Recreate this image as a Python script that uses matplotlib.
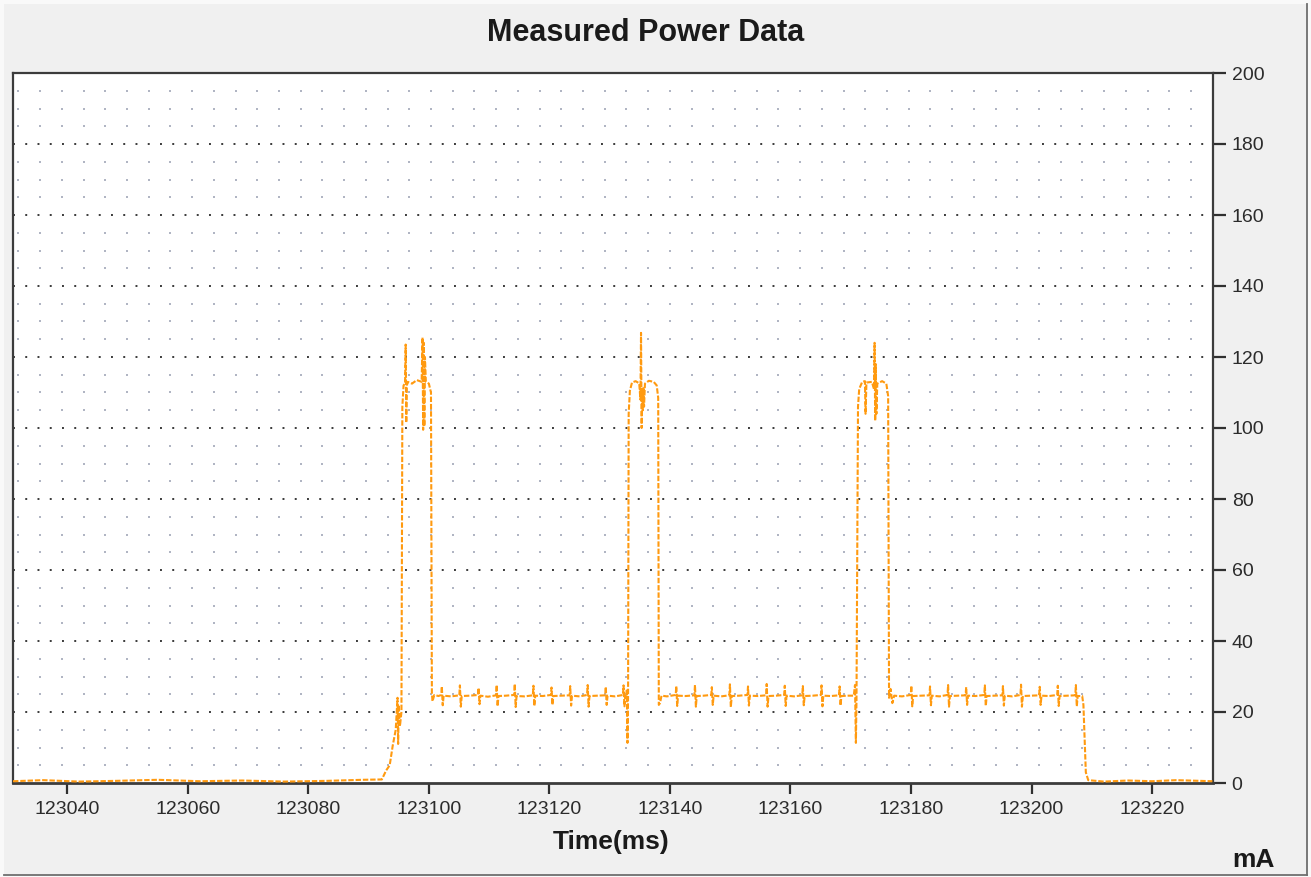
import numpy as np
import matplotlib
matplotlib.use("Agg")
import matplotlib.pyplot as plt
from matplotlib.patches import Rectangle
from matplotlib.lines import Line2D

plt.rcParams["font.family"] = ["Liberation Sans", "DejaVu Sans"]

# ---- measured current trace (time in ms, current in mA), one list per segment ----
idle_before = [
    (123031.0, 0.5), (123036.0, 0.8), (123042.0, 0.4), (123048.0, 0.6),
    (123055.0, 0.9), (123062.0, 0.5), (123069.0, 0.7), (123076.0, 0.4),
    (123083.0, 0.6), (123089.0, 0.9), (123092.2, 1.0),
]
wake_ramp = [
    (123092.9, 3.5), (123093.5, 5.0), (123094.0, 10.5), (123094.5, 15.0),
    (123094.8, 24.0), (123094.9, 11.0), (123095.0, 22.0), (123095.2, 16.0),
    (123095.45, 20.0),
]
burst_1 = [
    (123095.6, 106.0), (123095.8, 112.0), (123096.05, 112.5), (123096.15, 123.5),
    (123096.25, 101.5), (123096.35, 112.0), (123096.5, 113.0), (123097.2, 112.5),
    (123098.0, 113.5), (123098.8, 113.0), (123098.95, 125.5), (123099.05, 99.5),
    (123099.15, 124.0), (123099.25, 100.5), (123099.35, 120.0), (123099.5, 113.0),
    (123100.0, 112.5), (123100.35, 110.0), (123100.5, 25.5),
]
rx_wait_1 = [
    (123100.6, 23.0), (123100.9, 24.8), (123101.6, 24.5),
    (123102.05, 24.8), (123102.15, 27.2), (123102.3, 21.9), (123102.45, 24.6), (123103.7, 24.4),
    (123105.05, 24.7), (123105.15, 27.5), (123105.3, 21.5), (123105.45, 24.5), (123106.8, 24.6),
    (123108.15, 24.8), (123108.25, 26.8), (123108.4, 22.2), (123108.55, 24.6), (123109.8, 24.3),
    (123111.15, 24.7), (123111.25, 27.6), (123111.4, 21.6), (123111.55, 24.5), (123112.8, 24.6),
    (123114.15, 24.8), (123114.25, 27.9), (123114.4, 21.4), (123114.55, 24.5), (123115.9, 24.4),
    (123117.25, 24.7), (123117.35, 27.4), (123117.5, 21.7), (123117.65, 24.6), (123118.9, 24.5),
    (123120.25, 24.8), (123120.35, 26.9), (123120.5, 22.0), (123120.65, 24.5), (123122.0, 24.6),
    (123123.35, 24.7), (123123.45, 27.3), (123123.6, 21.8), (123123.75, 24.6), (123125.0, 24.4),
    (123126.25, 24.8), (123126.35, 27.6), (123126.5, 21.5), (123126.65, 24.5), (123127.9, 24.6),
    (123129.25, 24.7), (123129.35, 27.1), (123129.5, 22.0), (123129.65, 24.6), (123130.9, 24.4),
    (123132.2, 24.8), (123132.3, 27.5), (123132.45, 21.6), (123132.6, 24.5),
]
burst_2 = [
    (123132.75, 24.0), (123132.85, 26.5), (123132.95, 11.3), (123133.05, 24.0),
    (123133.15, 104.0), (123133.35, 110.5), (123133.7, 112.8), (123134.3, 113.2),
    (123134.9, 112.6), (123135.1, 108.0), (123135.2, 126.8), (123135.3, 100.0),
    (123135.4, 111.0), (123135.5, 105.0), (123135.6, 111.5), (123135.7, 106.0),
    (123135.85, 112.5), (123136.5, 113.3), (123137.3, 113.0), (123137.8, 112.0),
    (123138.05, 108.5), (123138.15, 22.0), (123138.35, 22.5), (123138.6, 24.6),
]
rx_wait_2 = [
    (123139.5, 24.4),
    (123140.95, 24.8), (123141.05, 27.3), (123141.2, 21.7), (123141.35, 24.6), (123142.6, 24.5),
    (123144.05, 24.7), (123144.15, 27.6), (123144.3, 21.5), (123144.45, 24.5), (123145.6, 24.6),
    (123146.85, 24.8), (123146.95, 27.0), (123147.1, 22.0), (123147.25, 24.6), (123148.5, 24.4),
    (123149.85, 24.7), (123149.95, 27.8), (123150.1, 21.4), (123150.25, 24.5), (123151.5, 24.6),
    (123152.85, 24.8), (123152.95, 27.2), (123153.1, 21.8), (123153.25, 24.6), (123154.6, 24.5),
    (123155.95, 24.7), (123156.05, 27.9), (123156.2, 21.5), (123156.35, 24.5), (123157.6, 24.6),
    (123158.95, 24.8), (123159.05, 27.4), (123159.2, 21.7), (123159.35, 24.6), (123160.6, 24.4),
    (123161.95, 24.7), (123162.05, 27.3), (123162.2, 21.9), (123162.35, 24.5), (123163.7, 24.6),
    (123165.05, 24.8), (123165.15, 27.5), (123165.3, 21.6), (123165.45, 24.6), (123166.7, 24.5),
    (123168.05, 24.7), (123168.15, 27.2), (123168.3, 21.8), (123168.45, 24.5), (123169.6, 24.6),
]
burst_3 = [
    (123170.5, 24.6), (123170.7, 27.6), (123170.85, 11.3), (123170.95, 23.5),
    (123171.2, 106.0), (123171.4, 111.0), (123171.9, 113.0), (123172.35, 113.2),
    (123172.45, 104.0), (123172.6, 112.8), (123173.5, 113.0), (123173.85, 111.0),
    (123173.95, 124.0), (123174.05, 102.0), (123174.15, 118.0), (123174.25, 104.0),
    (123174.4, 112.5), (123175.2, 113.2), (123175.9, 112.5), (123176.2, 109.0),
    (123176.35, 24.0), (123176.6, 26.5), (123176.9, 22.5), (123177.2, 24.6),
]
rx_wait_3 = [
    (123178.5, 24.4),
    (123179.95, 24.8), (123180.05, 27.4), (123180.2, 21.6), (123180.35, 24.5), (123181.6, 24.6),
    (123183.05, 24.7), (123183.15, 27.2), (123183.3, 21.9), (123183.45, 24.6), (123184.7, 24.4),
    (123186.05, 24.8), (123186.15, 27.6), (123186.3, 21.5), (123186.45, 24.5), (123187.7, 24.6),
    (123189.05, 24.7), (123189.15, 27.0), (123189.3, 22.0), (123189.45, 24.6), (123190.7, 24.5),
    (123192.15, 24.8), (123192.25, 27.5), (123192.4, 21.7), (123192.55, 24.5), (123193.8, 24.6),
    (123195.15, 24.7), (123195.25, 27.3), (123195.4, 21.8), (123195.55, 24.6), (123196.8, 24.4),
    (123198.15, 24.8), (123198.25, 27.7), (123198.4, 21.5), (123198.55, 24.5), (123199.9, 24.6),
    (123201.25, 24.7), (123201.35, 27.1), (123201.5, 22.0), (123201.65, 24.6), (123202.9, 24.5),
    (123204.25, 24.8), (123204.35, 27.4), (123204.5, 21.7), (123204.65, 24.5), (123205.9, 24.6),
    (123207.25, 24.7), (123207.35, 27.6), (123207.5, 21.6), (123207.65, 24.5),
]
idle_after = [
    (123208.4, 24.5), (123208.6, 22.0), (123209.0, 3.0), (123209.4, 0.8),
    (123212.0, 0.4), (123216.0, 0.7), (123220.0, 0.5), (123224.0, 0.8),
    (123230.0, 0.5),
]

segments = [idle_before, wake_ramp, burst_1, rx_wait_1, burst_2,
            rx_wait_2, burst_3, rx_wait_3, idle_after]

x_ticks = [123040, 123060, 123080, 123100, 123120, 123140, 123160, 123180, 123200, 123220]
y_ticks = [0, 20, 40, 60, 80, 100, 120, 140, 160, 180, 200]

time_ms = np.array([p[0] for seg in segments for p in seg])
current_ma = np.array([p[1] for seg in segments for p in seg])

# ---- figure / window frame ----
W, H = 1311, 877
fig = plt.figure(figsize=(W / 100, H / 100), dpi=100, facecolor="#f9f9f9")
fig.patches.append(Rectangle((4 / W, 3 / H), 1302 / W, 870 / H, transform=fig.transFigure,
                             facecolor="#f0f0f0", edgecolor="none", zorder=-10))
fig.lines.append(Line2D([1307 / W, 1307 / W], [2 / H, 873 / H], transform=fig.transFigure,
                        color="#6e6e6e", lw=1.3))
fig.lines.append(Line2D([4 / W, 1307 / W], [2 / H, 2 / H], transform=fig.transFigure,
                        color="#6e6e6e", lw=1.3))

ax = fig.add_axes([13 / W, (H - 783) / H, 1200 / W, 710 / H])
ax.set_facecolor("white")
ax.set_xlim(123031.0, 123230.1)
ax.set_ylim(0, 200)

# light dot grid
dot_x = np.arange(123031.9, 123230.0, 3.603)
dot_y = [v for v in range(5, 200, 5) if v % 20]
gx, gy = np.meshgrid(dot_x, dot_y)
ax.scatter(gx.ravel(), gy.ravel(), s=3.0, marker="s", color="#b0b5c3", lw=0, zorder=1)

# dark dotted lines at the labelled levels
for yv in y_ticks[1:-1]:
    ax.axhline(yv, color="#3a3a3a", lw=1.4, linestyle=(0, (1, 5.3)), zorder=1.5)

ax.plot(time_ms, current_ma, color="#ff9a10", lw=1.5, linestyle=(0, (2.6, 0.9)), zorder=3)

ax.set_xticks(x_ticks)
ax.set_xticklabels([str(t) for t in x_ticks])
ax.set_yticks(y_ticks)
ax.yaxis.tick_right()
ax.tick_params(axis="x", direction="out", length=8, width=1.6, color="#303030",
               labelsize=14, pad=5, labelcolor="#2b2b2b")
ax.tick_params(axis="y", direction="out", length=9.5, width=1.6, color="#303030",
               labelsize=14, pad=4, labelcolor="#2b2b2b")
for side, sp in ax.spines.items():
    sp.set_color("#3c3c3c")
    sp.set_linewidth(1.6)
ax.spines["bottom"].set_linewidth(2.0)

fig.text(646 / W, 1 - 33 / H, "Measured Power Data", ha="center", va="center",
         fontsize=22, fontweight="bold", color="#1a1a1a")
fig.text(611 / W, 1 - 842 / H, "Time(ms)", ha="center", va="center",
         fontsize=19, fontweight="bold", color="#1a1a1a")
fig.text(1253 / W, 1 - 860 / H, "mA", ha="center", va="center",
         fontsize=19, fontweight="bold", color="#1a1a1a")

fig.savefig("out.png", dpi=100, facecolor=fig.get_facecolor())
